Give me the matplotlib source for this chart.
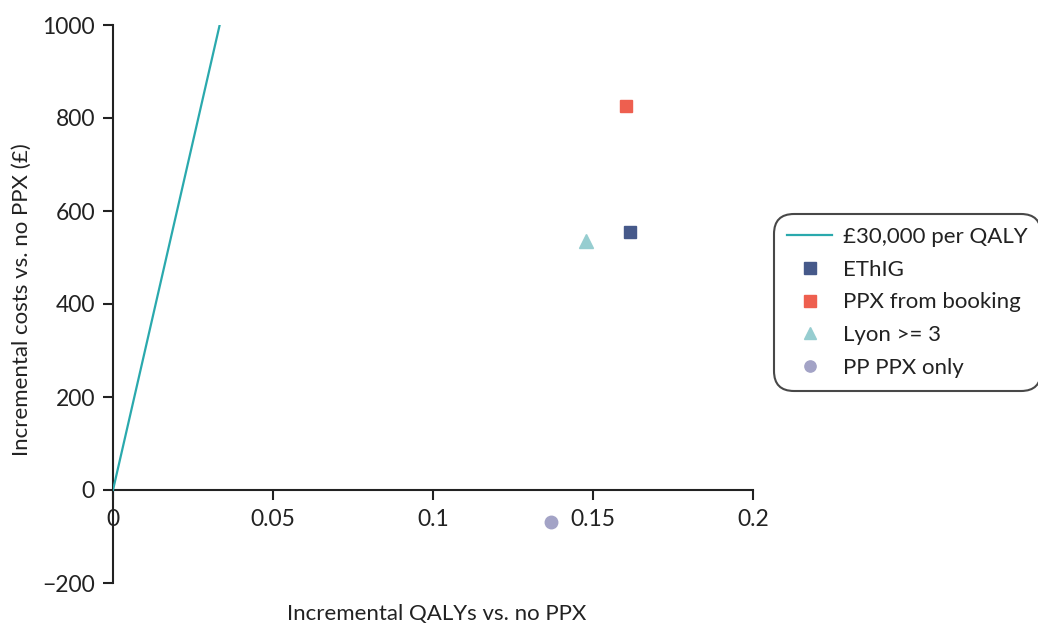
import matplotlib
matplotlib.use("Agg")
import matplotlib.pyplot as plt

plt.rcParams['font.family'] = ['Lato', 'DejaVu Sans']

# Data
wtp_label = "£30,000 per QALY"
wtp_costs = [0, 1000]
wtp_threshold = 30000
strategies = ["EThIG", "PPX from booking", "Lyon >= 3", "PP PPX only"]
qalys = [0.1616, 0.1603, 0.1478, 0.1369]
costs = [555, 826, 535, -69]
markers = ["s", "s", "^", "o"]
colors = ["#46598a", "#ee5f4f", "#96cdd0", "#a3a3c6"]
x_ticks = [0, 0.05, 0.1, 0.15, 0.2]
x_ticklabels = ["0", "0.05", "0.1", "0.15", "0.2"]
y_ticks = [-200, 0, 200, 400, 600, 800, 1000]

fig = plt.figure(figsize=(10.38, 6.25), dpi=100)
ax = fig.add_axes([113/1038, 42/625, 640/1038, 558/625])

wtp_qalys = [c / wtp_threshold for c in wtp_costs]
ax.plot(wtp_qalys, wtp_costs, color="#2aa9ad", lw=1.6, label=wtp_label, zorder=3)
for q, c, m, col, lab in zip(qalys, costs, markers, colors, strategies):
    ax.plot([q], [c], linestyle="none", marker=m, color=col,
            markersize=9 if m != "^" else 10, label=lab, zorder=4)

ax.set_xlim(0, 0.2)
ax.set_ylim(-200, 1000)
ax.spines['top'].set_visible(False)
ax.spines['right'].set_visible(False)
ax.spines['bottom'].set_position(('data', 0))
for s in ('left', 'bottom'):
    ax.spines[s].set_linewidth(1.5)
    ax.spines[s].set_color("#222222")
ax.set_xticks(x_ticks)
ax.set_xticklabels(x_ticklabels)
ax.set_yticks(y_ticks)
ax.tick_params(axis='both', labelsize=16.5, width=1.5, length=7, color="#222222",
               labelcolor="#222222")
ax.tick_params(axis='x', pad=7)
ax.tick_params(axis='y', pad=6)

fig.text(437/1038, 1 - 614/625, "Incremental QALYs vs. no PPX", ha="center",
         va="center", fontsize=16, color="#222222")
fig.text(22/1038, 1 - 300/625, "Incremental costs vs. no PPX (£)", ha="center",
         va="center", rotation=90, fontsize=16, color="#222222")

leg = fig.legend(loc="center left", bbox_to_anchor=(774/1038, 1 - 302.5/625),
                 frameon=True, fontsize=16, handlelength=2.0, borderpad=0.6,
                 labelspacing=0.57, handletextpad=0.5, borderaxespad=0,
                 fancybox=True, markerscale=0.9)
frame = leg.get_frame()
frame.set_edgecolor("#1a1a1a")
frame.set_linewidth(1.5)
frame.set_boxstyle("round,pad=0,rounding_size=0.9")
for t in leg.get_texts():
    t.set_color("#222222")

fig.savefig("out.png", dpi=100)
